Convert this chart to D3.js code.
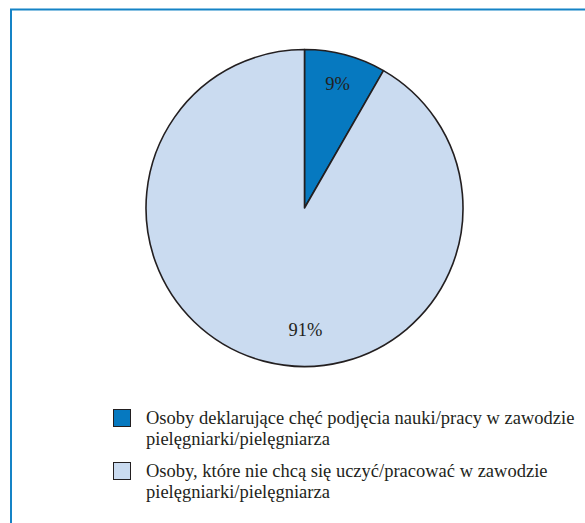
<!DOCTYPE html>
<html>
<head>
<meta charset="utf-8">
<script src="https://cdn.jsdelivr.net/npm/d3@7"></script>
<style>
html,body{margin:0;padding:0;background:#fff;}
svg{display:block;}
text{font-family:"Liberation Serif","Times New Roman",serif;fill:#231f20;}
</style>
</head>
<body>
<svg id="chart" width="585" height="523"></svg>
<script>
const categories = [
  ["Osoby deklarujące chęć podjęcia nauki/pracy w zawodzie", "pielęgniarki/pielęgniarza"],
  ["Osoby, które nie chcą się uczyć/pracować w zawodzie", "pielęgniarki/pielęgniarza"]
];
const shares = [8.3, 91.7];
const valueLabels = ["9%", "91%"];
const colors = ["#0679c0", "#cadbf0"];

const svg = d3.select("#chart");

// frame
svg.append("path")
  .attr("d", "M11,523 V9.5 H590")
  .attr("fill", "none")
  .attr("stroke", "#1583c6")
  .attr("stroke-width", 2);

const cx = 304.5, cy = 208, r = 158.5;
const pie = d3.pie().sort(null).value(d => d)(shares);
const arc = d3.arc().innerRadius(0).outerRadius(r);
const g = svg.append("g").attr("transform", `translate(${cx},${cy})`);
g.selectAll("path").data(pie).join("path")
  .attr("d", arc)
  .attr("fill", (d, i) => colors[i])
  .attr("stroke", "#231f20")
  .attr("stroke-width", 1.6)
  .attr("stroke-linejoin", "round");

const labelPos = [[33, -118], [1, 128]];
g.selectAll("text.val").data(pie).join("text")
  .attr("class", "val")
  .attr("x", (d, i) => labelPos[i][0])
  .attr("y", (d, i) => labelPos[i][1])
  .attr("text-anchor", "middle")
  .attr("font-size", 18.5)
  .text((d, i) => valueLabels[i]);

// legend
const lg = svg.append("g");
const legY = [409, 462];
categories.forEach((lines, i) => {
  lg.append("rect")
    .attr("x", 113.5).attr("y", legY[i] + 0.5)
    .attr("width", 17).attr("height", 17)
    .attr("fill", colors[i])
    .attr("stroke", "#231f20").attr("stroke-width", 1);
  const t = lg.append("text").attr("font-size", 18.5);
  lines.forEach((ln, j) => {
    t.append("tspan").attr("x", 146).attr("y", legY[i] + 14.5 + j * 21).text(ln);
  });
});
</script>
</body>
</html>
